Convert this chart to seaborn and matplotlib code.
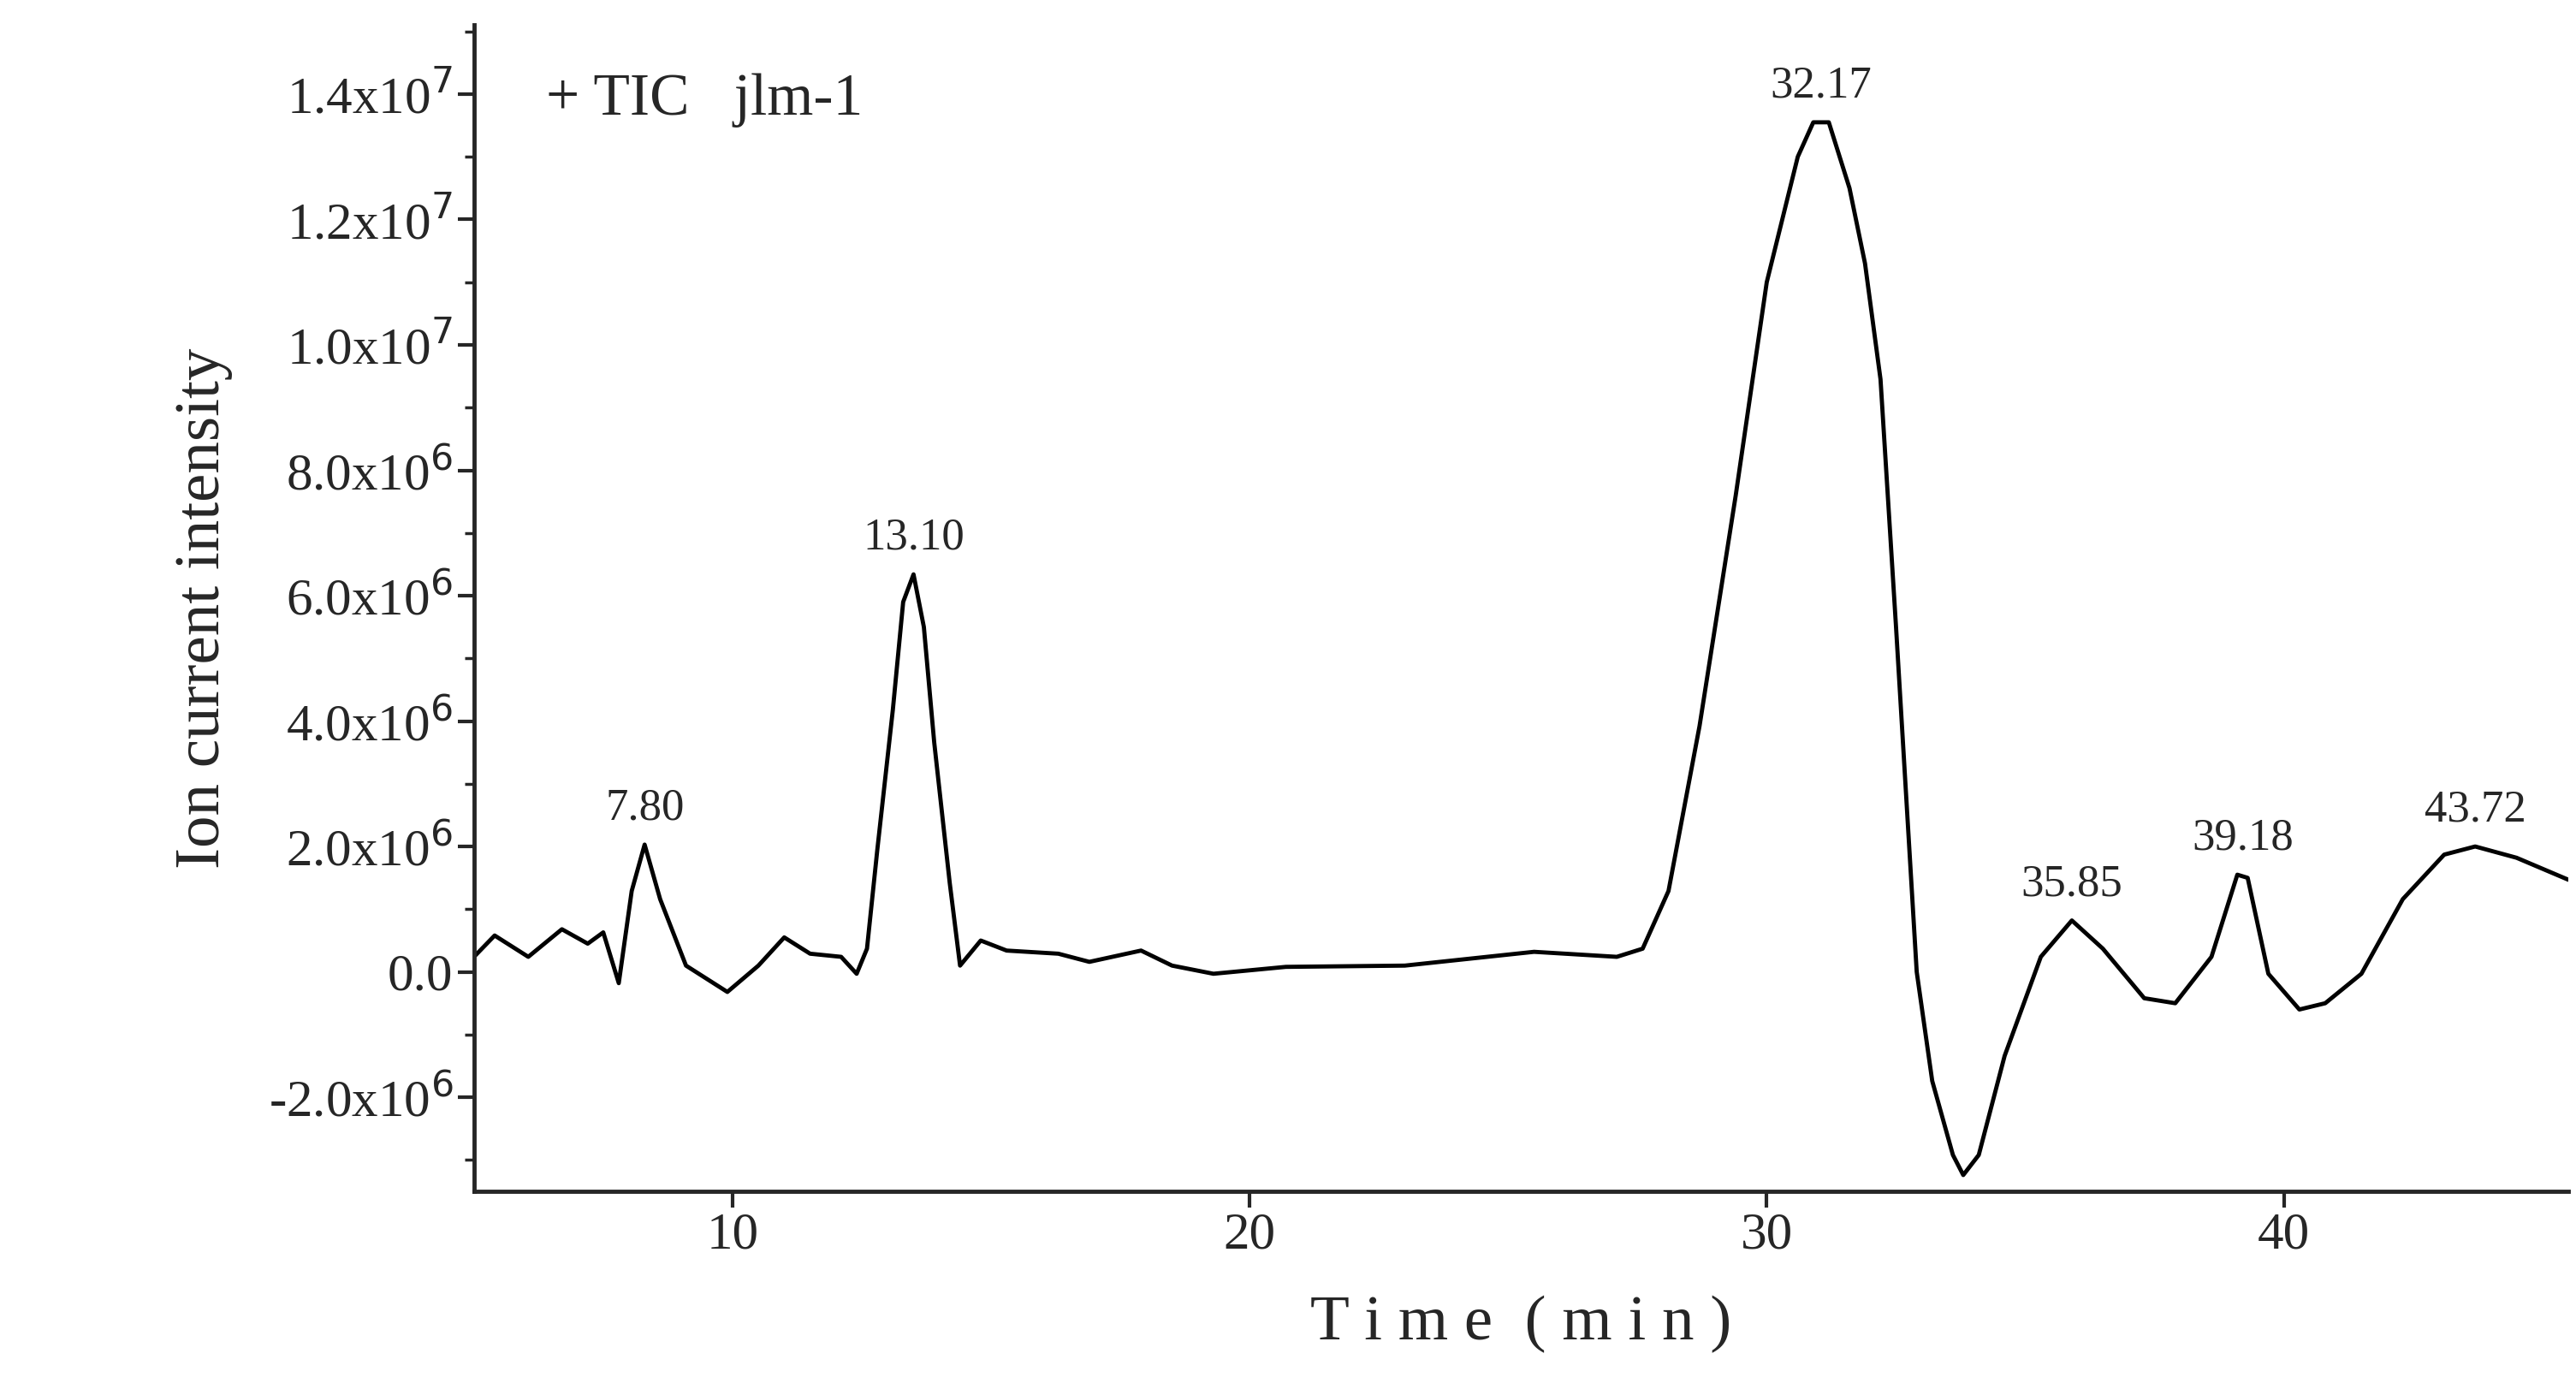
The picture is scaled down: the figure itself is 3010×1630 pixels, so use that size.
import numpy as np
import pandas as pd
import matplotlib
matplotlib.use('Agg')
import matplotlib.pyplot as plt
import seaborn as sns
from matplotlib.ticker import MultipleLocator, FuncFormatter

# chromatogram trace (time in min, intensity in 1e6)
time = [5.0, 5.4, 6.05, 6.7, 7.2, 7.5, 7.8, 8.05, 8.3, 8.6, 9.1, 9.9, 10.5, 11.0, 11.5,
        12.1, 12.4, 12.6, 12.8, 13.1, 13.3, 13.5, 13.7, 13.9, 14.2, 14.4, 14.8, 15.3,
        16.3, 16.9, 17.9, 18.5, 19.3, 20.7, 23.0, 25.5, 27.1, 27.6, 28.1, 28.7, 29.4,
        30.0, 30.6, 30.9, 31.2, 31.6, 31.9, 32.2, 32.5, 32.9, 33.2, 33.6, 33.8, 34.1,
        34.6, 35.3, 35.9, 36.5, 37.3, 37.9, 38.6, 39.1, 39.3, 39.7, 40.3, 40.8, 41.5,
        42.3, 43.1, 43.7, 44.5, 45.5]
intensity = [0.24, 0.58, 0.24, 0.68, 0.45, 0.63, -0.18, 1.29, 2.03, 1.16, 0.1, -0.32, 0.1,
             0.55, 0.29, 0.24, -0.03, 0.37, 1.95, 4.18, 5.9, 6.34, 5.5, 3.66, 1.42, 0.1,
             0.5, 0.34, 0.29, 0.16, 0.34, 0.1, -0.03, 0.08, 0.1, 0.32, 0.24, 0.37, 1.29,
             3.92, 7.6, 11.0, 13.0, 13.55, 13.55, 12.5, 11.3, 9.45, 5.5, 0.0, -1.74, -2.92,
             -3.24, -2.92, -1.34, 0.24, 0.82, 0.37, -0.42, -0.5, 0.24, 1.55, 1.5, -0.03,
             -0.6, -0.5, -0.03, 1.16, 1.87, 2.0, 1.82, 1.47]

peak_labels = ['7.80', '13.10', '32.17', '35.85', '39.18', '43.72']
peak_x = [8.3, 13.5, 31.05, 35.9, 39.2, 43.7]
peak_y = [2.03, 6.34, 13.55, 0.82, 1.55, 2.0]

df = pd.DataFrame({'time': time, 'intensity': np.array(intensity) * 1e6})

sns.set_style('ticks')
plt.rcParams['font.family'] = ['Liberation Serif', 'DejaVu Serif']

fig = plt.figure(figsize=(30.1, 16.3), dpi=100)
ax = fig.add_axes([0.184, 0.146, 0.813, 0.836])
sns.lineplot(data=df, x='time', y='intensity', ax=ax, color='black', linewidth=3.5)

for lab, px, py in zip(peak_labels, peak_x, peak_y):
    ax.text(px, py * 1e6 + 0.25e6, lab, ha='center', va='bottom', fontsize=38)
ax.text(6.4, 13.9e6, '+ TIC   jlm-1', ha='left', va='center', fontsize=50)

ax.set_xlim(5, 45.5)
ax.set_ylim(-3.5e6, 15.1e6)
ax.xaxis.set_major_locator(MultipleLocator(10))
ax.yaxis.set_major_locator(MultipleLocator(2e6))
ax.yaxis.set_minor_locator(MultipleLocator(1e6))


def fmt(v, pos):
    if abs(v) < 1:
        return '0.0'
    e = int(np.floor(np.log10(abs(v))))
    return '%.1fx10$^{%d}$' % (v / 10 ** e, e)


ax.yaxis.set_major_formatter(FuncFormatter(fmt))
ax.tick_params(axis='both', which='major', labelsize=44, width=3, length=14, direction='out')
ax.tick_params(axis='both', which='minor', width=2.5, length=8)
for s in ['left', 'bottom']:
    ax.spines[s].set_linewidth(3.5)
sns.despine(ax=ax)
ax.set_xlabel('T i m e  ( m i n )', fontsize=54, labelpad=30)
ax.set_ylabel('Ion current intensity', fontsize=54, labelpad=30)

fig.savefig('out.png', dpi=100)
